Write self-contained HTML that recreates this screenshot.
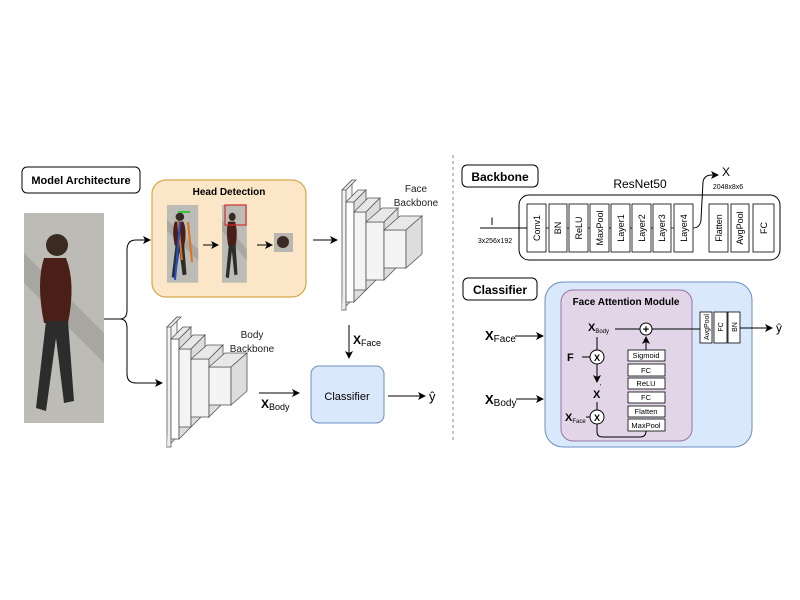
<!DOCTYPE html>
<html><head><meta charset="utf-8"><style>
body{margin:0;background:#fff}
svg{display:block;font-family:"Liberation Sans",Arial,sans-serif}
</style></head><body>
<svg width="800" height="600" viewBox="0 0 800 600">
<defs>
<marker id="a" markerWidth="8" markerHeight="8" refX="7" refY="4" orient="auto" markerUnits="userSpaceOnUse"><path d="M0,0 L8,4 L0,8 L2,4z" fill="#000"/></marker>
<g id="stack">
 <path d="M0,10 L10,0 L10,120 L0,130z" fill="#f2f2f2" stroke="#555" stroke-width="0.8"/>
 <path d="M0,10 L10,0 L14,0 L4,10z M4,10 L4,130 L0,130" fill="#eee" stroke="#555" stroke-width="0.8"/>
 <rect x="4" y="22" width="8" height="100" fill="#fff" stroke="#555" stroke-width="0.8"/>
 <path d="M4,22 L16,10 L24,10 L12,22z" fill="#e8e8e8" stroke="#555" stroke-width="0.8"/>
 <path d="M12,22 L24,10 L24,110 L12,122z" fill="#ddd" stroke="#555" stroke-width="0.8"/>
 <rect x="12" y="32" width="12" height="78" fill="#f4f4f4" stroke="#555" stroke-width="0.8"/>
 <path d="M12,32 L26,18 L38,18 L24,32z" fill="#e8e8e8" stroke="#555" stroke-width="0.8"/>
 <path d="M24,32 L38,18 L38,96 L24,110z" fill="#ddd" stroke="#555" stroke-width="0.8"/>
 <rect x="24" y="42" width="18" height="58" fill="#f4f4f4" stroke="#555" stroke-width="0.8"/>
 <path d="M24,42 L40,28 L56,28 L42,42z" fill="#e8e8e8" stroke="#555" stroke-width="0.8"/>
 <path d="M42,42 L56,28 L56,86 L42,100z" fill="#ddd" stroke="#555" stroke-width="0.8"/>
 <rect x="42" y="50" width="22" height="38" fill="#f4f4f4" stroke="#555" stroke-width="0.8"/>
 <path d="M42,50 L58,36 L80,36 L64,50z" fill="#e8e8e8" stroke="#555" stroke-width="0.8"/>
 <path d="M64,50 L80,36 L80,74 L64,88z" fill="#ddd" stroke="#555" stroke-width="0.8"/>
</g>
<g id="person">
 <rect x="0" y="0" width="80" height="210" fill="#bdbbb5"/>
 <path d="M0,40 L80,120 L80,150 L0,70z" fill="#a9a7a2"/>
 <circle cx="33" cy="32" r="11" fill="#3a2a22"/>
 <path d="M20,45 Q12,70 20,110 L44,110 Q52,70 42,45z" fill="#4a1f18"/>
 <path d="M22,108 L12,195 L22,198 L32,125 L40,190 L50,188 L44,108z" fill="#2c2c2c"/>
</g>
</defs>

<rect x="22" y="167" width="118" height="26" rx="5" fill="#fff" stroke="#000" stroke-width="1"/>
<text x="81" y="184" font-size="11" font-weight="bold" text-anchor="middle">Model Architecture</text>
<use href="#person" x="24" y="213"/>

<rect x="152" y="180" width="154" height="117" rx="14" fill="#fce6c8" stroke="#d6a84a" stroke-width="1.2"/>
<text x="229" y="195" font-size="10" font-weight="bold" text-anchor="middle">Head Detection</text>
<g transform="translate(167,205) scale(0.39,0.37)"><use href="#person"/></g>
<path d="M178,222 L182,260 M188,222 L192,262" stroke="#e07020" stroke-width="2"/><path d="M180,222 L175,280" stroke="#2050d0" stroke-width="2"/><path d="M178,212 L190,212" stroke="#40c040" stroke-width="2"/>
<g transform="translate(222,205) scale(0.31,0.37)"><use href="#person"/></g>
<rect x="225" y="205" width="21" height="20" fill="none" stroke="#d03030" stroke-width="1.2"/>
<rect x="274" y="233" width="19" height="19" fill="#b8b6b0"/><circle cx="283" cy="242" r="6" fill="#3a2a22"/>
<path d="M203,245 L218,245" stroke="#000" marker-end="url(#a)"/>
<path d="M257,245 L272,245" stroke="#000" marker-end="url(#a)"/>

<path d="M104,319 L120,319 Q127,319 127,310 L127,250 Q127,240 136,240 L150,240" fill="none" stroke="#000" marker-end="url(#a)"/>
<path d="M120,319 Q127,319 127,328 L127,374 Q127,383 136,383 L162,383" fill="none" stroke="#000" marker-end="url(#a)"/>

<path d="M313,240 L337,240" stroke="#000" marker-end="url(#a)"/>
<use href="#stack" x="342" y="180"/>
<text x="416" y="192" font-size="10" text-anchor="middle" fill="#222">Face</text>
<text x="416" y="206" font-size="10" text-anchor="middle" fill="#222">Backbone</text>

<use href="#stack" x="167" y="317"/>
<text x="252" y="338" font-size="10" text-anchor="middle" fill="#222">Body</text>
<text x="252" y="352" font-size="10" text-anchor="middle" fill="#222">Backbone</text>

<rect x="311" y="366" width="73" height="57" rx="8" fill="#dae8fc" stroke="#6c8ebf" stroke-width="1"/>
<text x="347" y="400" font-size="11" text-anchor="middle">Classifier</text>
<path d="M349,325 L349,358" stroke="#000" marker-end="url(#a)"/>
<text x="353" y="344" font-size="12" font-weight="bold">X<tspan font-size="9" font-weight="normal" dy="2">Face</tspan></text>
<path d="M259,393 L299,393" stroke="#000" marker-end="url(#a)"/>
<text x="261" y="408" font-size="12" font-weight="bold">X<tspan font-size="9" font-weight="normal" dy="2">Body</tspan></text>
<path d="M388,396 L425,396" stroke="#000" marker-end="url(#a)"/>
<text x="429" y="401" font-size="13">ŷ</text>

<path d="M453,155 L453,440" stroke="#888" stroke-dasharray="3,3"/>

<rect x="462" y="165" width="76" height="22" rx="5" fill="#fff" stroke="#000"/>
<text x="500" y="181" font-size="12" font-weight="bold" text-anchor="middle">Backbone</text>
<text x="640" y="188" font-size="12" text-anchor="middle">ResNet50</text>
<rect x="519" y="195" width="261" height="65" rx="10" fill="#fff" stroke="#000"/>
<text x="492" y="225" font-size="11" text-anchor="middle">I</text>
<text x="495" y="243" font-size="7" text-anchor="middle">3x256x192</text>
<path d="M480,228 L527,228" stroke="#000"/>
<g stroke="#000" stroke-width="0.8" fill="#fff">
<rect x="527" y="204" width="19" height="48"/>
<rect x="549" y="204" width="18" height="48"/>
<rect x="569" y="204" width="19" height="48"/>
<rect x="590" y="204" width="19" height="48"/>
<rect x="611" y="204" width="19" height="48"/>
<rect x="632" y="204" width="19" height="48"/>
<rect x="653" y="204" width="18" height="48"/>
<rect x="674" y="204" width="19" height="48"/>
<rect x="709" y="204" width="19" height="48"/>
<rect x="731" y="204" width="18" height="48"/>
<rect x="753" y="204" width="21" height="48"/>
</g>
<path d="M546,228h3M567,228h2M588,228h2M609,228h2M630,228h2M651,228h2M671,228h3" stroke="#000" stroke-width="0.8"/>
<g font-size="9" text-anchor="middle">
<text transform="translate(540,228) rotate(-90)">Conv1</text>
<text transform="translate(561,228) rotate(-90)">BN</text>
<text transform="translate(582,228) rotate(-90)">ReLU</text>
<text transform="translate(603,228) rotate(-90)">MaxPool</text>
<text transform="translate(624,228) rotate(-90)">Layer1</text>
<text transform="translate(645,228) rotate(-90)">Layer2</text>
<text transform="translate(665,228) rotate(-90)">Layer3</text>
<text transform="translate(687,228) rotate(-90)">Layer4</text>
<text transform="translate(722,228) rotate(-90)">Flatten</text>
<text transform="translate(743,228) rotate(-90)">AvgPool</text>
<text transform="translate(767,228) rotate(-90)">FC</text>
</g>
<path d="M693,228 Q700,228 701,220 L703,182 Q704,175 712,175 L718,175" fill="none" stroke="#000" marker-end="url(#a)"/>
<text x="726" y="176" font-size="12" text-anchor="middle">X</text>
<text x="728" y="189" font-size="7" text-anchor="middle">2048x8x6</text>

<rect x="463" y="278" width="74" height="22" rx="5" fill="#fff" stroke="#000"/>
<text x="500" y="294" font-size="12" font-weight="bold" text-anchor="middle">Classifier</text>
<rect x="545" y="282" width="207" height="165" rx="18" fill="#dae8fc" stroke="#6c8ebf"/>
<rect x="561" y="290" width="131" height="151" rx="12" fill="#e1d5e7" stroke="#9673a6"/>
<text x="626" y="305" font-size="10" font-weight="bold" text-anchor="middle">Face Attention Module</text>
<text x="485" y="340" font-size="13" font-weight="bold">X<tspan font-size="10" font-weight="normal" dy="2">Face</tspan></text>
<path d="M515,336 L543,336" stroke="#000" marker-end="url(#a)"/>
<text x="485" y="404" font-size="13" font-weight="bold">X<tspan font-size="10" font-weight="normal" dy="2">Body</tspan></text>
<path d="M516,399 L543,399" stroke="#000" marker-end="url(#a)"/>

<text x="588" y="331" font-size="11" font-weight="bold">X<tspan font-size="6" font-weight="normal" dy="2">Body</tspan></text>
<path d="M615,329 L640,329" stroke="#000"/>
<circle cx="646" cy="329" r="6" fill="#fff" stroke="#000"/>
<text x="646" y="333" font-size="11" font-weight="bold" text-anchor="middle">+</text>
<path d="M652,329 L700,329" stroke="#000"/>
<path d="M646,350 L646,337" stroke="#000" marker-end="url(#a)"/>
<path d="M597,337 L597,350" stroke="#000"/>
<text x="567" y="361" font-size="11" font-weight="bold">F</text>
<path d="M582,357 L590,357" stroke="#000"/>
<circle cx="597" cy="357" r="7" fill="#fff" stroke="#000"/>
<text x="597" y="361" font-size="9" font-weight="bold" text-anchor="middle">X</text>
<path d="M597,364 L597,382" stroke="#000" marker-end="url(#a)"/>
<text x="593" y="398" font-size="11" font-weight="bold">X</text><text x="600" y="389" font-size="7">'</text>
<path d="M597,402 L597,410" stroke="#000"/>
<text x="565" y="421" font-size="11" font-weight="bold">X<tspan font-size="6" font-weight="normal" dy="2">Face</tspan></text>
<path d="M586,417 L590,417" stroke="#000"/>
<circle cx="597" cy="417" r="7" fill="#fff" stroke="#000"/>
<text x="597" y="421" font-size="9" font-weight="bold" text-anchor="middle">X</text>
<path d="M597,424 L597,432 Q597,437 603,437 L640,437 Q646,437 646,431" fill="none" stroke="#000"/>
<g stroke="#000" stroke-width="0.8" fill="#fff">
<rect x="628" y="350" width="37" height="11"/><rect x="628" y="364" width="37" height="12"/>
<rect x="628" y="378" width="37" height="11"/><rect x="628" y="392" width="37" height="11"/>
<rect x="628" y="406" width="37" height="11"/><rect x="628" y="419" width="37" height="12"/>
</g>
<g font-size="7.5" text-anchor="middle">
<text x="646" y="358">Sigmoid</text><text x="646" y="373">FC</text><text x="646" y="386">ReLU</text>
<text x="646" y="400">FC</text><text x="646" y="414">Flatten</text><text x="646" y="428">MaxPool</text>
</g>
<g stroke="#000" stroke-width="0.8" fill="#fff">
<rect x="700" y="312" width="12" height="31"/><rect x="714" y="312" width="13" height="31"/><rect x="728" y="312" width="12" height="31"/>
</g>
<g font-size="7" text-anchor="middle">
<text transform="translate(709,327) rotate(-90)">AvgPool</text>
<text transform="translate(723,327) rotate(-90)">FC</text>
<text transform="translate(737,327) rotate(-90)">BN</text>
</g>
<path d="M740,328 L772,328" stroke="#000" marker-end="url(#a)"/>
<text x="776" y="332" font-size="12">ŷ</text>
</svg>
</body></html>
